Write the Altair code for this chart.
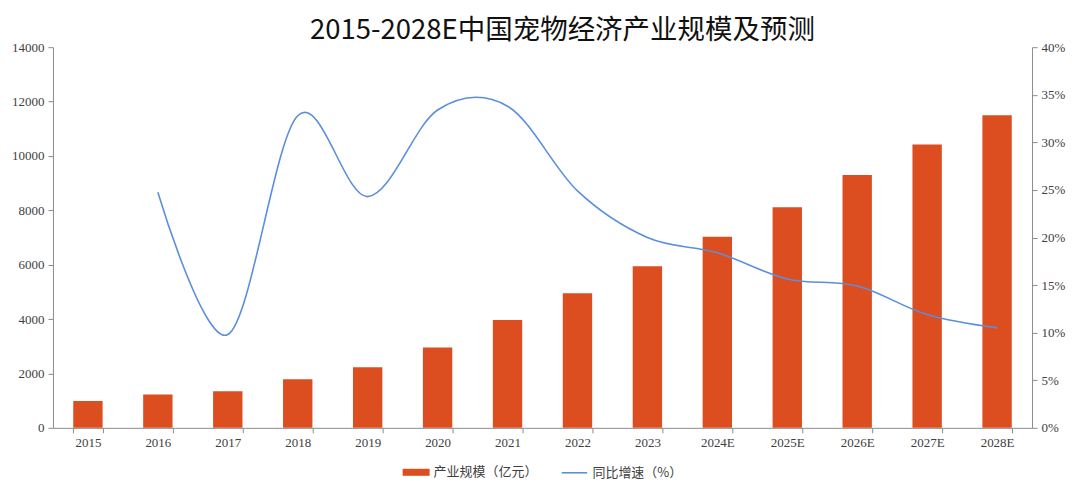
import altair as alt
import pandas as pd

years = ["2015", "2016", "2017", "2018", "2019", "2020", "2021", "2022", "2023",
         "2024E", "2025E", "2026E", "2027E", "2028E"]
scale_values = [990, 1222, 1343, 1784, 2224, 2958, 3963, 4954, 5945, 7031, 8110, 9295, 10422, 11497]
growth_values = [None, 0.2475, 0.098, 0.328, 0.243, 0.334, 0.338, 0.249, 0.200, 0.184, 0.1565, 0.149, 0.119, 0.105]

bar_name = "产业规模（亿元）"
line_name = "同比增速（%）"

df = pd.DataFrame({"year": years, "scale": scale_values, "growth": growth_values,
                   "s1": bar_name, "s2": line_name})

BAR = "#DC4E1F"
LINE = "#5B8FDC"
AX = "#8C8C8C"
LAB = "#404040"

x = alt.X("year:N", sort=years, title=None,
          scale=alt.Scale(paddingInner=0.58, paddingOuter=0.29),
          axis=alt.Axis(labelAngle=0, tickBand="extent", domainColor=AX, tickColor=AX,
                        tickSize=5, labelFont="Liberation Serif", labelFontSize=13,
                        labelColor=LAB, labelPadding=4))

bars = alt.Chart(df).mark_bar(color=BAR).encode(
    x=x,
    y=alt.Y("scale:Q", title=None,
            scale=alt.Scale(domain=[0, 14000], nice=False),
            axis=alt.Axis(values=list(range(0, 14001, 2000)), format="d", grid=False,
                          domainColor=AX, tickColor=AX, tickSize=5,
                          labelFont="Liberation Serif", labelFontSize=13, labelColor=LAB,
                          labelPadding=4)),
    color=alt.Color("s1:N", scale=alt.Scale(range=[BAR]), title=None,
                    legend=alt.Legend(orient="none", legendX=350, legendY=412,
                                      symbolType="M-1,-0.26H1V0.26H-1Z", symbolSize=729,
                                      symbolStrokeWidth=0,
                                      labelFont="Noto Sans CJK SC", labelFontSize=13,
                                      labelColor=LAB, labelOffset=4, labelLimit=300)),
)

line = alt.Chart(df).mark_line(color=LINE, strokeWidth=1.6, interpolate="cardinal", tension=0).encode(
    x=x,
    y=alt.Y("growth:Q", title=None,
            scale=alt.Scale(domain=[0, 0.4], nice=False),
            axis=alt.Axis(orient="right", values=[i * 0.05 for i in range(9)], format=".0%",
                          grid=False, domainColor=AX, tickColor=AX, tickSize=5,
                          labelFont="Liberation Serif", labelFontSize=13, labelColor=LAB,
                          labelPadding=4)),
    stroke=alt.Stroke("s2:N", scale=alt.Scale(range=[LINE]), title=None,
                      legend=alt.Legend(orient="none", legendX=508, legendY=412,
                                        symbolType="stroke", symbolSize=650,
                                        symbolStrokeWidth=1.6,
                                        labelFont="Noto Sans CJK SC", labelFontSize=13,
                                        labelColor=LAB, labelOffset=4, labelLimit=300)),
)

chart = alt.layer(bars, line).resolve_scale(y="independent", color="independent",
                                            stroke="independent").properties(
    width=980, height=381,
    title=alt.TitleParams("2015-2028E中国宠物经济产业规模及预测", font="Noto Sans CJK SC",
                          fontSize=27.5, fontWeight="normal", color="#111111",
                          anchor="middle", dx=20, offset=-3),
    autosize=alt.AutoSizeParams(type="none"),
    padding={"left": 45, "top": 39, "right": 40, "bottom": 60},
).configure_view(stroke=None)

chart.save("out.html", embed_options={"renderer": "svg", "actions": False})
